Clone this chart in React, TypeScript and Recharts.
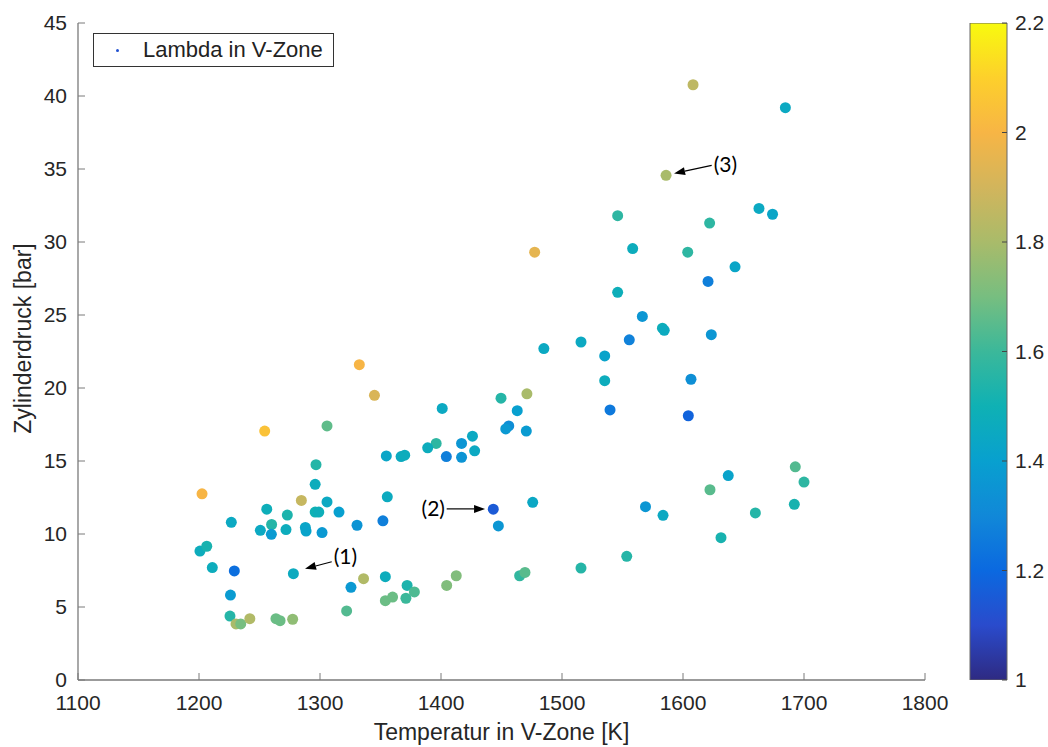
import React from 'react'
import {
    ScatterChart, Scatter, XAxis, YAxis, Legend, ReferenceLine, ReferenceDot,
    BarChart, Bar,
} from 'recharts'

// Messpunkte: Temperatur in V-Zone [K], Zylinderdruck [bar], Lambda
const temperatur = [
    1332.5, 1345, 1401, 1254.3, 1305.8, 1396, 1389, 1404.4, 1354.8, 1367,
    1370, 1296.7, 1296, 1202.5, 1284.6, 1305.8, 1355.6, 1256, 1273, 1296,
    1299, 1315.7, 1352, 1330.6, 1226.7, 1260, 1250.7, 1259.8, 1271.9, 1287.9,
    1288.5, 1301.7, 1200.8, 1206.4, 1211, 1229.2, 1278, 1336, 1354, 1325.6,
    1372, 1378, 1354, 1360, 1371, 1322, 1226, 1225.6, 1230.6, 1234.5,
    1242, 1263.6, 1267, 1277.4, 1404.7, 1412.6, 1485, 1449.6, 1471, 1463,
    1456, 1453.5, 1470.5, 1426, 1417, 1427.8, 1417, 1443.2, 1447.4, 1475.8,
    1465, 1469.4, 1566.4, 1583, 1584.5, 1555.6, 1515.7, 1535.3, 1535.3, 1539.7,
    1606.6, 1604.4, 1569, 1583.5, 1515.7, 1553.5, 1623.4, 1692.8, 1700, 1692,
    1637.4, 1622.3, 1659.8, 1631.4, 1608.3, 1684.6, 1586, 1546, 1622, 1662.8,
    1674, 1477.4, 1558.4, 1603.9, 1643, 1620.7, 1546,
]
const druck = [
    21.6, 19.5, 18.6, 17.05, 17.4, 16.2, 15.9, 15.3, 15.35, 15.3,
    15.4, 14.75, 13.4, 12.75, 12.3, 12.2, 12.55, 11.7, 11.3, 11.5,
    11.5, 11.5, 10.9, 10.6, 10.8, 10.65, 10.25, 9.98, 10.3, 10.45,
    10.2, 10.1, 8.83, 9.16, 7.7, 7.47, 7.28, 6.94, 7.08, 6.35,
    6.48, 6.03, 5.43, 5.68, 5.6, 4.73, 5.82, 4.38, 3.84, 3.84,
    4.2, 4.2, 4.06, 4.16, 6.48, 7.14, 22.7, 19.3, 19.6, 18.45,
    17.4, 17.2, 17.05, 16.7, 16.2, 15.7, 15.25, 11.7, 10.55, 12.17,
    7.14, 7.37, 24.9, 24.1, 23.95, 23.3, 23.15, 22.2, 20.5, 18.5,
    20.6, 18.1, 11.87, 11.28, 7.67, 8.47, 23.65, 14.6, 13.56, 12.03,
    14.0, 13.03, 11.44, 9.75, 40.77, 39.2, 34.57, 31.8, 31.3, 32.3,
    31.9, 29.3, 29.55, 29.3, 28.3, 27.3, 26.55,
]
const lambda = [
    2.0, 1.92, 1.45, 2.05, 1.66, 1.57, 1.47, 1.27, 1.43, 1.46,
    1.47, 1.55, 1.47, 2.0, 1.87, 1.45, 1.46, 1.48, 1.53, 1.5,
    1.48, 1.4, 1.27, 1.35, 1.45, 1.55, 1.45, 1.38, 1.47, 1.43,
    1.42, 1.37, 1.47, 1.52, 1.47, 1.22, 1.46, 1.82, 1.47, 1.37,
    1.53, 1.63, 1.68, 1.68, 1.6, 1.64, 1.38, 1.55, 1.8, 1.7,
    1.82, 1.68, 1.68, 1.75, 1.72, 1.72, 1.45, 1.55, 1.8, 1.4,
    1.32, 1.37, 1.38, 1.45, 1.36, 1.45, 1.35, 1.15, 1.36, 1.44,
    1.58, 1.65, 1.36, 1.48, 1.46, 1.28, 1.45, 1.42, 1.47, 1.25,
    1.33, 1.18, 1.36, 1.45, 1.55, 1.55, 1.36, 1.64, 1.57, 1.52,
    1.42, 1.65, 1.55, 1.52, 1.85, 1.45, 1.8, 1.57, 1.57, 1.45,
    1.43, 1.95, 1.47, 1.57, 1.43, 1.27, 1.48,
]

const xTicks = [1100, 1200, 1300, 1400, 1500, 1600, 1700, 1800]
const yTicks = [0, 5, 10, 15, 20, 25, 30, 35, 40, 45]
const colorbarTicks = [1, 1.2, 1.4, 1.6, 1.8, 2, 2.2]
const colorbarRange = [{ name: 'Lambda', value: 2.2 }]

// parula-like colormap as seen on the colorbar
const mapStops = [1.0, 1.1, 1.2, 1.3, 1.4, 1.5, 1.6, 1.7, 1.8, 1.9, 2.0, 2.1, 2.2]
const mapColors = [
    '#2e2a82', '#2a4bcc', '#0b69e0', '#1188d8', '#08a0cf', '#0fb1b4', '#3bb89a',
    '#77be80', '#a9bb6a', '#d2b55c', '#f7b545', '#fdd02b', '#f8fa0e',
]

// annotations: label position and arrow tail/tip in data units
const annoLabels = ['(1)', '(2)', '(3)']
const annoText = [{ x: 1321, y: 8.46 }, { x: 1393.6, y: 11.75 }, { x: 1635, y: 35.3 }]
const annoTail = [{ x: 1309.7, y: 8.1 }, { x: 1404.7, y: 11.72 }, { x: 1623.7, y: 35.25 }]
const annoTip = [{ x: 1287.6, y: 7.62 }, { x: 1436.4, y: 11.72 }, { x: 1592.6, y: 34.7 }]

const hexToRgb = (h: string) => [1, 3, 5].map(i => parseInt(h.slice(i, i + 2), 16))

const lambdaColor = (l: number) => {
    if (l <= mapStops[0]) return mapColors[0]
    for (let i = 1; i < mapStops.length; i++) {
        if (l <= mapStops[i]) {
            const f = (l - mapStops[i - 1]) / (mapStops[i] - mapStops[i - 1])
            const a = hexToRgb(mapColors[i - 1])
            const b = hexToRgb(mapColors[i])
            const c = a.map((v, k) => Math.round(v + (b[k] - v) * f))
            return `rgb(${c[0]},${c[1]},${c[2]})`
        }
    }
    return mapColors[mapColors.length - 1]
}

const punkte = temperatur.map((t, i) => ({ t, p: druck[i], lambda: lambda[i] }))

const axisColor = '#7a7a7a'
const textColor = '#262626'
const font = '"Liberation Sans", Arial, sans-serif'

const Arrow = (props: any) => {
    const { x1, y1, x2, y2 } = props
    const ang = Math.atan2(y2 - y1, x2 - x1)
    const len = 11
    const w = 4
    const bx = x2 - len * Math.cos(ang)
    const by = y2 - len * Math.sin(ang)
    const p1 = `${x2},${y2}`
    const p2 = `${bx - w * Math.sin(ang)},${by + w * Math.cos(ang)}`
    const p3 = `${bx + w * Math.sin(ang)},${by - w * Math.cos(ang)}`
    return (
        <g>
            <line x1={x1} y1={y1} x2={bx} y2={by} stroke="#000" strokeWidth={1.2} />
            <polygon points={`${p1} ${p2} ${p3}`} fill="#000" />
        </g>
    )
}

const YLabel = (props: any) => {
    const vb = props.viewBox
    const cx = vb.x - 5
    const cy = vb.y + vb.height / 2 - 13
    return (
        <text x={cx} y={cy} transform={`rotate(-90, ${cx}, ${cy})`} textAnchor="middle"
            dominantBaseline="central" fontSize={23} fill={textColor}>
            Zylinderdruck [bar]
        </text>
    )
}

const LegendBox = () => (
    <div style={{
        width: 239, height: 32, border: '1px solid #333', background: '#fff',
        display: 'flex', alignItems: 'center', fontFamily: font, fontSize: 22, color: '#222',
    }}>
        <span style={{
            display: 'inline-block', width: 3, height: 3, borderRadius: 2, background: '#2050d0',
            marginLeft: 22, marginRight: 24,
        }} />
        <span>Lambda in V-Zone</span>
    </div>
)

export default function App() {
    return (
        <div style={{
            position: 'absolute', left: 0, top: 0, width: 1048, height: 747,
            background: '#fff', fontFamily: font,
        }}>
            <div style={{ position: 'absolute', left: 0, top: 0 }}>
                <ScatterChart width={960} height={747} margin={{ top: 23, right: 35, bottom: 0, left: 28 }}>
                    <XAxis
                        type="number"
                        dataKey="t"
                        domain={[1100, 1800]}
                        ticks={xTicks}
                        allowDataOverflow
                        height={67}
                        tickSize={-7}
                        tickMargin={22}
                        tick={{ fontSize: 21, fill: textColor }}
                        stroke={axisColor}
                        axisLine={{ stroke: axisColor, strokeWidth: 1.3 }}
                        tickLine={{ stroke: axisColor }}
                        label={{ value: 'Temperatur in V-Zone [K]', position: 'insideBottom', offset: 7, fontSize: 23, fill: textColor }}
                    />
                    <YAxis
                        type="number"
                        dataKey="p"
                        domain={[0, 45]}
                        ticks={yTicks}
                        allowDataOverflow
                        width={50}
                        tickSize={-7}
                        tickMargin={18}
                        tick={{ fontSize: 21, fill: textColor }}
                        stroke={axisColor}
                        axisLine={{ stroke: axisColor, strokeWidth: 1.3 }}
                        tickLine={{ stroke: axisColor }}
                        label={<YLabel />}
                    />
                    <Legend
                        layout="horizontal"
                        verticalAlign="middle"
                        align="center"
                        wrapperStyle={{ left: 93, top: 33, width: 'auto' }}
                        content={<LegendBox />}
                    />
                    <Scatter
                        name="Lambda in V-Zone"
                        data={punkte}
                        isAnimationActive={false}
                        shape={(s: any) => (
                            <circle cx={s.cx} cy={s.cy} r={5.5} fill={lambdaColor(s.payload.lambda)} />
                        )}
                    />
                    {annoLabels.map((lab, i) => (
                        <ReferenceLine
                            key={`arrow-${lab}`}
                            segment={[annoTail[i], annoTip[i]]}
                            shape={<Arrow />}
                        />
                    ))}
                    {annoLabels.map((lab, i) => (
                        <ReferenceDot
                            key={`label-${lab}`}
                            x={annoText[i].x}
                            y={annoText[i].y}
                            r={0}
                            stroke="none"
                            fill="none"
                            label={{ value: lab, position: 'center', fontSize: 21, fill: '#000', fontFamily: 'Lato, sans-serif' }}
                        />
                    ))}
                </ScatterChart>
            </div>
            <div style={{ position: 'absolute', left: 940, top: 0 }}>
                <BarChart width={108} height={747} data={colorbarRange}
                    margin={{ top: 23, right: 0, bottom: 67, left: 30 }} barCategoryGap={0}>
                    <defs>
                        <linearGradient id="parula" x1="0" y1="1" x2="0" y2="0">
                            {mapStops.map((s, i) => (
                                <stop key={s} offset={(s - 1) / 1.2} stopColor={mapColors[i]} />
                            ))}
                        </linearGradient>
                    </defs>
                    <XAxis dataKey="name" hide />
                    <YAxis
                        orientation="right"
                        type="number"
                        domain={[1, 2.2]}
                        ticks={colorbarTicks}
                        allowDataOverflow
                        width={41}
                        axisLine={false}
                        tickSize={-5}
                        tickMargin={13}
                        tick={{ fontSize: 21, fill: textColor }}
                        tickLine={{ stroke: '#444' }}
                    />
                    <Bar dataKey="value" fill="url(#parula)" stroke="#666" strokeWidth={1}
                        isAnimationActive={false} />
                </BarChart>
            </div>
        </div>
    )
}
